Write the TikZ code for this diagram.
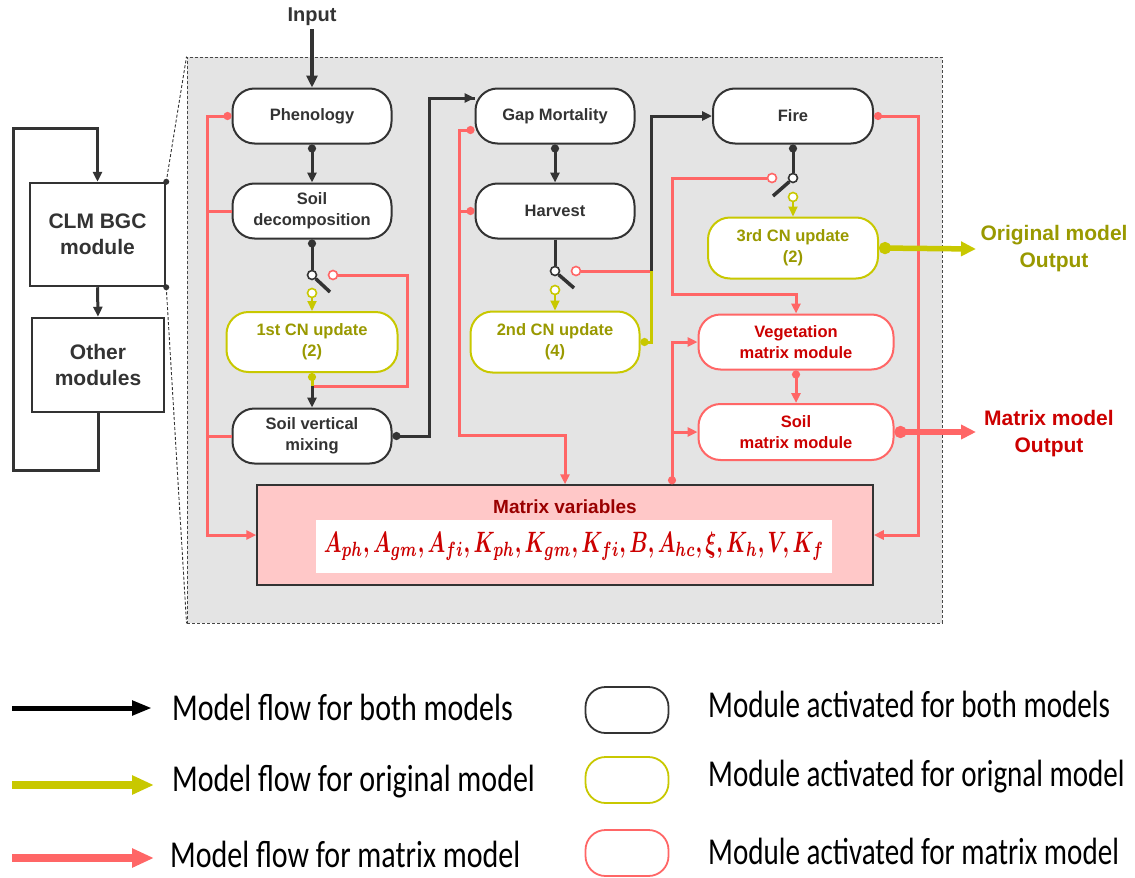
\documentclass[tikz,border=0pt]{standalone}
\usepackage{fontspec}
\setmainfont{Liberation Sans}
\newfontfamily\legfont{Carlito}
\usepackage{bm}
\usetikzlibrary{arrows.meta,calc}
\definecolor{cK}{HTML}{333333}
\definecolor{cY}{HTML}{C8C800}
\definecolor{cYT}{HTML}{999900}
\definecolor{cR}{HTML}{FF6666}
\definecolor{cRT}{HTML}{CC0000}
\definecolor{cBG}{HTML}{E4E4E4}
\definecolor{cMV}{HTML}{FFC8C8}
\definecolor{cMVT}{HTML}{990000}
\tikzset{
  ar/.style={-{Triangle[length=10pt,width=9pt]}},
  dar/.style={{Circle[length=8pt]}-{Triangle[length=10pt,width=9pt]}},
  sdot/.style={{Circle[length=8pt]}-},
  kline/.style={draw=cK, line width=3pt},
  yline/.style={draw=cY, line width=3pt},
  rline/.style={draw=cR, line width=3pt},
  modbase/.style={rectangle, rounded corners=22pt, fill=white, line width=2pt, align=center,
     font=\bfseries\fontsize{16.5}{21}\selectfont, inner sep=0pt},
  kmod/.style={modbase, draw=cK, text=cK, minimum width=159pt, minimum height=55pt},
  ymod/.style={modbase, draw=cY, text=cYT, minimum width=170pt, minimum height=60pt},
  rmod/.style={modbase, draw=cR, text=cRT, minimum width=195pt, minimum height=55pt},
  bigbox/.style={rectangle, draw=cK, line width=2.5pt, fill=white, align=center, text=cK,
     font=\bfseries\fontsize{21}{26}\selectfont, inner sep=0pt},
  swk/.style={circle, draw=cK, line width=1.6pt, fill=white, inner sep=0pt, minimum size=9pt},
  swr/.style={circle, draw=cR, line width=1.6pt, fill=white, inner sep=0pt, minimum size=9pt},
  swy/.style={circle, draw=cY, line width=1.6pt, fill=white, inner sep=0pt, minimum size=9pt},
  lever/.style={draw=cK, line width=3.5pt},
  outtxt/.style={align=center, font=\bfseries\fontsize{21}{27}\selectfont},
  legtxt/.style={anchor=west, inner sep=0pt, font=\legfont\fontsize{38}{44}\selectfont},
  legbox/.style={rectangle, rounded corners=20pt, line width=1.8pt, fill=white, minimum width=83pt, minimum height=46pt},
}
\begin{document}
\begin{tikzpicture}[x=1pt,y=-1pt]
\useasboundingbox (0,0) rectangle (1135,878);
% frame
\node[draw=cK!90, dashed, dash pattern=on 3pt off 2pt, line width=0.9pt, fill=cBG, minimum width=755pt, minimum height=566pt, inner sep=0pt] (fr) at (564.5,340) {};

% left modules
\node[bigbox, minimum width=135pt, minimum height=103pt] (clm) at (97.5,234.5) {CLM BGC\\module};
\node[bigbox, minimum width=132pt, minimum height=94pt] (oth) at (98,365) {Other\\modules};
\draw[kline, ar] (clm.south) -- (oth.north);
\draw[kline, ar] (oth.south) -- (98,470) -| (13,128) -| (clm.north);
\draw[cK, dashed, dash pattern=on 3pt off 2pt, line width=0.9pt] (clm.north east) -- (fr.north west);
\draw[cK, dashed, dash pattern=on 3pt off 2pt, line width=0.9pt] (clm.south east) -- (fr.south west);
\fill[cK] (clm.north east) circle (3pt);
\fill[cK] (clm.south east) circle (3pt);

% input
\node[font=\bfseries\fontsize{20}{24}\selectfont, text=cK] (inp) at (312,17) {Input};

% modules
\node[kmod] (phen) at (312,116) {Phenology};
\node[kmod] (sdec) at (312,211) {Soil\\decomposition};
\node[ymod, minimum width=171pt] (cn1) at (312,342) {1st CN update\\(2)};
\node[kmod] (svm) at (312,436) {Soil vertical\\mixing};
\node[kmod] (gap) at (555,116) {Gap Mortality};
\node[kmod] (harv) at (555,211) {Harvest};
\node[ymod, minimum width=169pt, minimum height=61pt] (cn2) at (555,342) {2nd CN update\\(4)};
\node[kmod, minimum width=160pt] (fire) at (793,116) {Fire};
\node[ymod, minimum height=61pt] (cn3) at (793,248) {3rd CN update\\(2)};
\node[rmod] (veg) at (796,342) {Vegetation\\matrix module};
\node[rmod, minimum height=56pt] (soil) at (796,432) {Soil\\matrix module};
\node[rectangle, draw=cK, line width=1.5pt, fill=cMV, minimum width=616pt, minimum height=100pt, inner sep=0pt] (mv) at (565,535) {};
\node[font=\bfseries\fontsize{19}{22}\selectfont, text=cMVT] (mvt) at (565,507) {Matrix variables};
\node[fill=white, minimum width=516pt, minimum height=53pt, inner sep=0pt, text=cRT] (mvf) at (574,546)
  {\scalebox{1}[1.45]{\resizebox{500pt}{!}{$\bm{A_{ph}, A_{gm}, A_{fi}, K_{ph}, K_{gm}, K_{fi}, B, A_{hc}, \xi, K_h, V, K_f}$}}};

% input arrow
\draw[cK, line width=4pt, -{Triangle[length=12pt,width=11pt]}] (inp.south) -- (phen.north);

% column 1
\draw[kline, dar] (phen.south) -- (sdec.north);
\coordinate (lv1) at (330,292);
\node[swk] (sw1) at (312,275) {};
\node[swr] (r1) at (333,275) {};
\node[swy] (y1) at (312,293) {};
\draw[kline, sdot] (sdec.south) -- (sw1.north);
\draw[lever] (sw1.-45) -- (lv1);
\draw[cY, line width=2pt, -{Triangle[length=10pt,width=9pt]}] (y1.south) -- (cn1.north);
\coordinate (j1) at (312,386);
\draw[rline] (r1.east) -- (407,275) |- (j1);
\draw[yline, sdot] (cn1.south) -- (j1);
\draw[kline, ar] (j1) -- (svm.north);
\draw[kline, sdot] (svm.east) -| (429,98) -- ([yshift=18pt]gap.west);
\draw[kline, -{Triangle[length=10pt,width=9pt]}] (429,98) -- ([yshift=18pt]gap.west);

% column 2
\draw[kline, dar] (gap.south) -- (harv.north);
\coordinate (lv2) at (574,288);
\node[swk] (sw2) at (555,271) {};
\node[swr] (r2) at (576,271) {};
\node[swy] (y2) at (555,290) {};
\draw[kline] (harv.south) -- (sw2.north);
\draw[lever] (sw2.-45) -- (lv2);
\draw[cY, line width=2pt, -{Triangle[length=10pt,width=9pt]}] (y2.south) -- (cn2.north);
\coordinate (k2) at (651,271);
\draw[rline] (r2.east) -- (k2);
\draw[yline, sdot] (cn2.east) -| (k2);
\draw[kline, ar] (k2) |- (fire.west);

% column 3
\coordinate (lv3) at (773,196);
\node[swk] (sw3) at (793,178) {};
\node[swr] (r3) at (772,178) {};
\node[swy] (y3) at (793,197) {};
\draw[kline, sdot] (fire.south) -- (sw3.north);
\draw[lever] (sw3.-135) -- (lv3);
\draw[cY, line width=2pt, -{Triangle[length=10pt,width=9pt]}] (y3.south) -- (cn3.north);
\draw[rline, ar] (r3.west) -| (672,294) -| (veg.north);
\draw[rline, dar] (veg.south) -- (soil.north);
\coordinate (b1) at (672,432);
\draw[rline, dar] ([xshift=107pt]mv.north) |- (veg.west);
\draw[rline, ar] (b1) -- (soil.west);
\draw[rline, dar] (fire.east) -| (918,535) -- (mv.east);

% outputs
\coordinate (yo) at (976,249);
\coordinate (ro) at (976,432);
\draw[cY, line width=5.5pt, {Circle[length=12pt]}-{Triangle[length=15pt,width=14pt]}] (cn3.east) -- (yo);
\draw[cR, line width=5.5pt, {Circle[length=12pt]}-{Triangle[length=15pt,width=14pt]}] (soil.east) -- (ro);
\node[outtxt, text=cYT] (yot) at (1054,249) {Original model\\Output};
\node[outtxt, text=cRT] (rot) at (1049,434) {Matrix model\\Output};

% left red bus
\draw[rline, dar] (phen.west) -| (207,535) -- (mv.west);
\draw[rline] (207,211) -- (sdec.west);
\draw[rline] (207,436) -- (svm.west);
% middle red bus
\draw[rline, dar] ([yshift=-14pt]gap.west) -| (459,435) -| (mv.north);
\draw[rline, sdot] (harv.west) -- (459,211);

% legend
\coordinate (la1) at (12,708); \coordinate (lb1) at (152,708);
\coordinate (la2) at (12,785); \coordinate (lb2) at (154,785);
\coordinate (la3) at (12,858); \coordinate (lb3) at (154,858);
\draw[black, line width=5pt, -{Triangle[length=20pt,width=14pt]}] (la1) -- (lb1);
\draw[cY, line width=8pt, -{Triangle[length=22pt,width=18pt]}] (la2) -- (lb2);
\draw[cR, line width=8pt, -{Triangle[length=22pt,width=18pt]}] (la3) -- (lb3);
\node[legtxt] (lt1) at (172,707) {\scalebox{0.79}[1]{Model flow for both models}};
\node[legtxt] (lt2) at (172,782) {\scalebox{0.79}[1]{Model flow for original model}};
\node[legtxt] (lt3) at (170,854) {\scalebox{0.79}[1]{Model flow for matrix model}};
\node[legbox, draw=cK] (lg1) at (627,710) {};
\node[legbox, draw=cY] (lg2) at (627,780) {};
\node[legbox, draw=cR] (lg3) at (627,853) {};
\node[legtxt] (rt1) at (708,704) {\scalebox{0.765}[1]{Module activated for both models}};
\node[legtxt] (rt2) at (708,777) {\scalebox{0.765}[1]{Module activated for orignal model}};
\node[legtxt] (rt3) at (708,851) {\scalebox{0.765}[1]{Module activated for matrix model}};
\end{tikzpicture}
\end{document}
